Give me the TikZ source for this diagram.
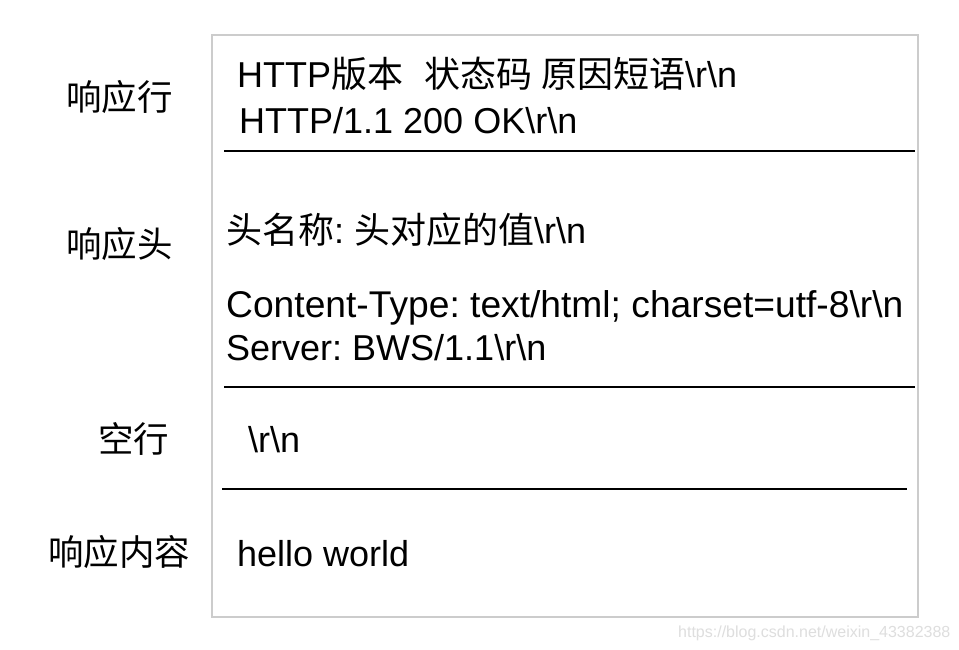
\documentclass[tikz,border=0pt]{standalone}
\usepackage{fontspec}
\setmainfont{Liberation Sans}
\newfontfamily\cjk{Noto Sans CJK SC}
\newcommand{\zh}[1]{{\cjk #1}}
\newcommand{\bs}{\textbackslash}
\frenchspacing
\begin{document}
\begin{tikzpicture}[x=1pt,y=-1pt,
  txt/.style={anchor=base west,inner sep=0pt,font=\fontsize{36}{40}\selectfont\frenchspacing},
  lbl/.style={anchor=center,inner sep=0pt,font=\fontsize{35.5}{40}\cjk},
  sep/.style={draw=black,line width=2pt},
  frame/.style={draw=black!20,line width=1.6pt}]
\useasboundingbox[fill=white] (0,0) rectangle (959,649);
\draw[frame] (212,35) rectangle (918,617);
% separators
\coordinate (s1a) at (224,151); \coordinate (s1b) at (915,151);
\coordinate (s2a) at (224,387); \coordinate (s2b) at (915,387);
\coordinate (s3a) at (222,489); \coordinate (s3b) at (907,489);
\draw[sep] (s1a) -- (s1b);
\draw[sep] (s2a) -- (s2b);
\draw[sep] (s3a) -- (s3b);
% labels
\node[lbl] (l1) at (119.5,97) {响应行};
\node[lbl] (l2) at (119.5,244) {响应头};
\node[lbl] (l3) at (133.5,439) {空行};
\node[lbl] (l4) at (119.5,552) {响应内容};
% contents
\node[txt] (t1) at (237,87) {HTTP\zh{版本}\hspace{21pt}\zh{状态码}\hspace{9pt}\zh{原因短语}\bs r\bs n};
\node[txt] (t2) at (239,133) {HTTP/1.1 200 OK\bs r\bs n};
\node[txt] (t3) at (226,243) {\zh{头名称}: \zh{头对应的值}\bs r\bs n};
\node[txt,font=\fontsize{37.2}{40}\selectfont\frenchspacing] (t4) at (226,317) {Content-Type: text/html; charset=utf-8\bs r\bs n};
\node[txt] (t5) at (226,360) {Server: BWS/1.1\bs r\bs n};
\node[txt] (t6) at (248,452) {\bs r\bs n};
\node[txt] (t7) at (237,566) {hello world};
\node[anchor=base west,inner sep=0pt,font=\fontsize{16}{18}\selectfont,text=black!13] (wm) at (678,637) {https://blog.csdn.net/weixin\_43382388};
\end{tikzpicture}
\end{document}
